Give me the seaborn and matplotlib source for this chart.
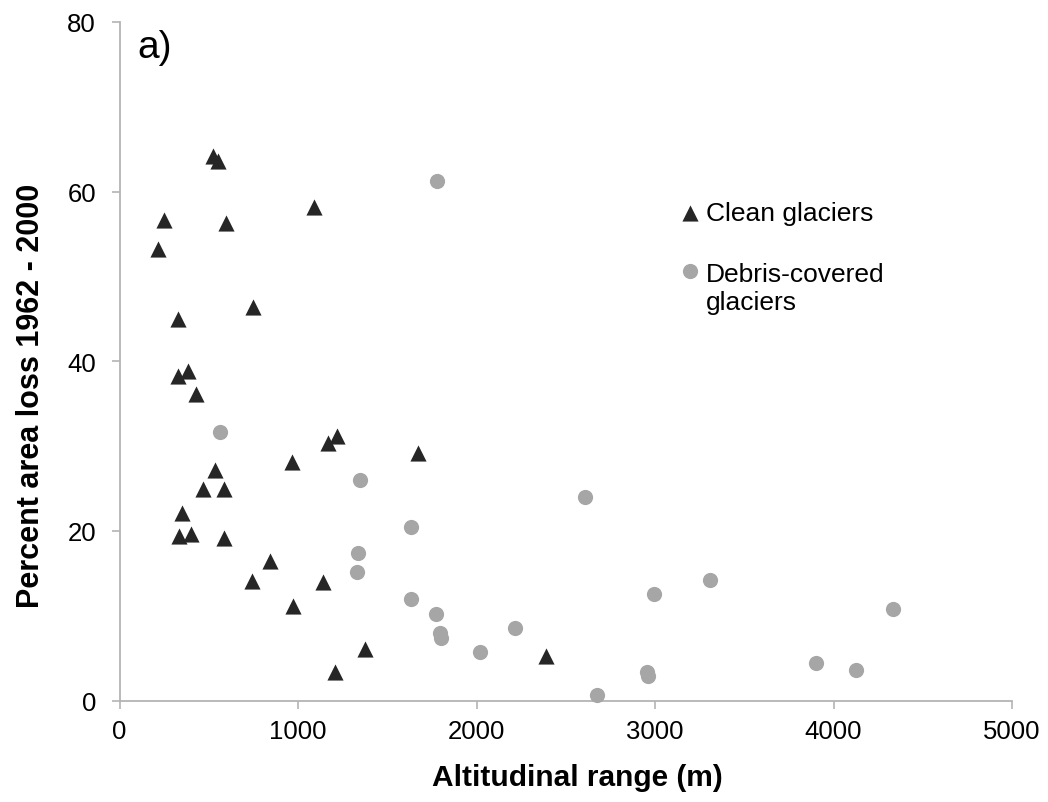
import matplotlib
matplotlib.use("Agg")
import matplotlib.pyplot as plt
from matplotlib.legend_handler import HandlerPathCollection
import seaborn as sns
import pandas as pd

# Data
clean_range = [522, 553, 1089, 247, 596, 217, 749, 329, 385, 329, 428, 1216, 1166,
               1673, 968, 533, 466, 587, 348, 335, 402, 587, 845, 740, 1141, 971,
               2388, 1375, 1210]
clean_loss = [64.2, 63.6, 58.2, 56.7, 56.3, 53.2, 46.4, 45.0, 38.9, 38.3, 36.1, 31.2,
              30.4, 29.2, 28.1, 27.2, 24.9, 24.9, 22.1, 19.4, 19.6, 19.2, 16.4, 14.1,
              14.0, 11.1, 5.3, 6.1, 3.4]

debris_range = [1778, 561, 1347, 1632, 1337, 1332, 1632, 1774, 1798, 1800, 2610, 3306,
                2994, 2213, 2018, 2954, 2963, 2674, 4333, 3904, 4124]
debris_loss = [61.3, 31.7, 26.0, 20.4, 17.4, 15.1, 12.0, 10.2, 7.9, 7.4, 24.0, 14.2,
               12.6, 8.6, 5.7, 3.4, 2.9, 0.6, 10.8, 4.4, 3.6]

clean_label = "Clean glaciers"
debris_label = "Debris-covered\nglaciers"

x_ticks = [0, 1000, 2000, 3000, 4000, 5000]
y_ticks = [0, 20, 40, 60, 80]

sns.set_theme(style="white")
plt.rcParams["font.family"] = ["Liberation Sans", "DejaVu Sans"]

W, H = 1048, 803
fig = plt.figure(figsize=(W / 100, H / 100), dpi=100)
ax = fig.add_axes([119.5 / W, (H - 701.5) / H, 892.5 / W, 678.5 / H])

clean_df = pd.DataFrame({"range": clean_range, "loss": clean_loss})
debris_df = pd.DataFrame({"range": debris_range, "loss": debris_loss})

sns.scatterplot(data=debris_df, x="range", y="loss", ax=ax, marker="o", s=120,
                color="#a6a6a6", linewidth=0, label=debris_label, legend=False,
                clip_on=False, zorder=3)
sns.scatterplot(data=clean_df, x="range", y="loss", ax=ax, marker="^", s=135,
                color="#262626", linewidth=0, label=clean_label, legend=False,
                clip_on=False, zorder=4)

ax.set_xlim(0, 5000)
ax.set_ylim(0, 80)
ax.set_xticks(x_ticks)
ax.set_yticks(y_ticks)
ax.set_xticklabels([str(v) for v in x_ticks])
ax.set_yticklabels([str(v) for v in y_ticks])

spine_col = "#b4b4b4"
for side in ["top", "right"]:
    ax.spines[side].set_visible(False)
for side in ["left", "bottom"]:
    ax.spines[side].set_color(spine_col)
    ax.spines[side].set_linewidth(1.3)
ax.tick_params(axis="both", which="major", direction="out", length=6, width=1.2,
               color=spine_col, labelsize=18.5, labelcolor="black")
ax.tick_params(axis="x", pad=7, bottom=True)
ax.tick_params(axis="y", pad=11, left=True)
ax.grid(False)

ax.set_xlabel("Altitudinal range (m)", fontsize=21.5, fontweight="bold", color="black")
ax.set_ylabel("Percent area loss 1962 - 2000", fontsize=22, fontweight="bold", color="black")
ax.xaxis.set_label_coords(0.513, -0.092)
ax.yaxis.set_label_coords(-0.082, 0.45)

handles, labels = ax.get_legend_handles_labels()
h_clean = handles[labels.index(clean_label)]
h_debris = handles[labels.index(debris_label)]
leg = ax.legend([h_clean, h_debris], [clean_label, debris_label],
                loc="upper left", bbox_to_anchor=(679.5 / W, (H - 202) / H),
                bbox_transform=fig.transFigure, frameon=False, fontsize=19,
                handlelength=0.8, handletextpad=0.2, labelspacing=1.4,
                borderpad=0, borderaxespad=0, scatterpoints=1,
                handler_map={h_debris: HandlerPathCollection(yoffsets=[1.4])})
for t in leg.get_texts():
    t.set_color("black")

fig.text(137 / W, 1 - 58 / H, "a)", fontsize=28, color="black", va="baseline")

fig.savefig("out.png", dpi=100, facecolor="white")
